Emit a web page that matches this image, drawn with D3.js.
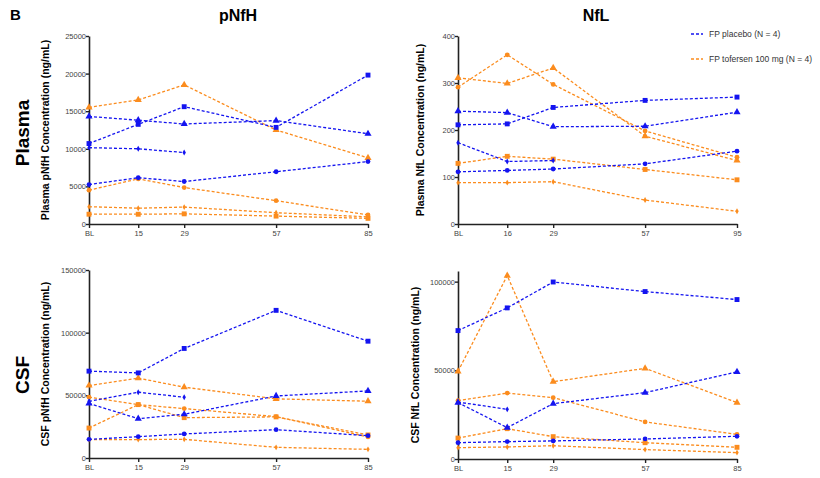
<!DOCTYPE html>
<html>
<head>
<meta charset="utf-8">
<script src="https://cdn.jsdelivr.net/npm/d3@7"></script>
<style>
  body { margin: 0; background: #fff; }
  text { font-family: Arial, "Liberation Sans", sans-serif; }
</style>
</head>
<body>
<div id="chart"></div>
<script>
// study days used for x position, and the labels printed under each panel
var days = [0, 15, 29, 57, 85];
var visitsPlasmaPnfh = ["BL", "15", "29", "57", "85"];
var visitsPlasmaNfl  = ["BL", "16", "29", "57", "95"];
var visitsCsfPnfh    = ["BL", "15", "29", "57", "85"];
var visitsCsfNfl     = ["BL", "15", "29", "57", "85"];

// one row per participant; null = no sample
var plasmaPnfhPlacebo = [
  [10700, 13250, 15600, 12850, 19800],
  [14300, 13800, 13300, 13750, 12000],
  [10150, 10000, 9500, null, null],
  [5250, 6150, 5650, 6950, 8300]
];
var plasmaPnfhTofersen = [
  [1300, 1300, 1350, 1050, 750],
  [15500, 16500, 18500, 12500, 8800],
  [4500, 6000, 4850, 3100, 1200],
  [2300, 2100, 2250, 1500, 950]
];

var plasmaNflPlacebo = [
  [211, 213, 248, 263, 270],
  [240, 237, 207, 208, 238],
  [173, 133, 135, null, null],
  [111, 114, 117, 128, 155]
];
var plasmaNflTofersen = [
  [129, 144, 138, 116, 94],
  [311, 299, 332, 187, 135],
  [291, 360, 297, 198, 142],
  [88, 88, 90, 51, 27]
];

var csfPnfhPlacebo = [
  [69300, 67900, 87400, 117800, 93200],
  [43500, 31400, 34900, 49500, 53500],
  [45200, 52500, 48500, null, null],
  [14900, 17000, 19200, 22600, 17800]
];
var csfPnfhTofersen = [
  [23900, 42600, 32200, 32800, 18400],
  [57800, 63700, 56500, 47200, 45300],
  [48500, 42600, 39400, 33000, 16800],
  [14700, 14700, 14900, 8500, 6900]
];

var csfNflPlacebo = [
  [72400, 85200, 99800, 94400, 89900],
  [31800, 17700, 31200, 37400, 49100],
  [32100, 28000, null, null, null],
  [9200, 9800, 10200, 11300, 12800]
];
var csfNflTofersen = [
  [11800, 17100, 12600, 9200, 6600],
  [49400, 103400, 43600, 51100, 31800],
  [32900, 37200, 34600, 20900, 13900],
  [6400, 6800, 7500, 5300, 3600]
];

var placeboColor = "#1414f0",
    tofersenColor = "#fb8c1e";

// marker per participant row
var placeboShapes  = [d3.symbolSquare, d3.symbolTriangle, d3.symbolDiamond, d3.symbolCircle];
var placeboSizes   = [24, 22, 10, 18];
var tofersenShapes = [d3.symbolSquare, d3.symbolTriangle, d3.symbolCircle, d3.symbolDiamond];
var tofersenSizes  = [24, 22, 18, 10];

var svg = d3.select("#chart").append("svg")
    .attr("width", 820)
    .attr("height", 478);

var plotW = 279, plotH = 188;

function panel(left, top, ymax, yticks, labels, placebo, tofersen, ytitle, titleX) {
  var g = svg.append("g")
      .attr("transform", "translate(" + left + "," + top + ")");

  var x = d3.scaleLinear().domain([0, 85]).range([0, plotW]);
  var y = d3.scaleLinear().domain([0, ymax]).range([plotH, 0]);

  var yAxis = g.append("g")
      .call(d3.axisLeft(y).tickValues(yticks).tickSize(3).tickSizeOuter(0).tickFormat(d3.format("d")));
  var xAxis = g.append("g")
      .attr("transform", "translate(0," + plotH + ")")
      .call(d3.axisBottom(x).tickValues(days).tickSize(4).tickSizeOuter(0)
        .tickFormat(function(d, i) { return labels[i]; }));

  [yAxis, xAxis].forEach(function(a) {
    a.select(".domain").attr("stroke", "#222").attr("stroke-width", 1.6);
    a.selectAll(".tick line").attr("stroke", "#222").attr("stroke-width", 1.4);
    a.selectAll("text").attr("fill", "#444").style("font-size", "7.5px")
      .style("font-family", "Arial, 'Liberation Sans', sans-serif");
  });
  yAxis.selectAll("text").attr("x", -3);
  xAxis.selectAll("text").attr("y", 7);

  var line = d3.line()
      .defined(function(d) { return d != null; })
      .x(function(d, i) { return x(days[i]); })
      .y(function(d) { return y(d); });

  function drawGroup(rows, color, shapes, sizes) {
    rows.forEach(function(row, k) {
      g.append("path")
          .datum(row)
          .attr("d", line)
          .attr("fill", "none")
          .attr("stroke", color)
          .attr("stroke-width", 1.3)
          .attr("stroke-dasharray", "3,2");

      var sym = d3.symbol().type(shapes[k]).size(sizes[k]);
      g.selectAll(null)
          .data(row.map(function(v, i) { return {v: v, i: i}; })
                  .filter(function(d) { return d.v != null; }))
        .enter().append("path")
          .attr("d", sym)
          .attr("fill", color)
          .attr("transform", function(d) {
            return "translate(" + x(days[d.i]) + "," + y(d.v) + ")";
          });
    });
  }

  drawGroup(tofersen, tofersenColor, tofersenShapes, tofersenSizes);
  drawGroup(placebo, placeboColor, placeboShapes, placeboSizes);

  svg.append("text")
      .attr("transform", "translate(" + titleX + "," + (top + plotH / 2) + ") rotate(-90)")
      .attr("text-anchor", "middle")
      .style("font-size", "10.5px")
      .style("font-weight", "bold")
      .text(ytitle);
}

panel(89, 36, 25000, [0, 5000, 10000, 15000, 20000, 25000], visitsPlasmaPnfh,
      plasmaPnfhPlacebo, plasmaPnfhTofersen, "Plasma pNfH Concentration (ng/mL)", 49);
panel(458, 36, 400, [0, 100, 200, 300, 400], visitsPlasmaNfl,
      plasmaNflPlacebo, plasmaNflTofersen, "Plasma NfL Concentration (ng/mL)", 424);
panel(89, 270, 150000, [0, 50000, 100000, 150000], visitsCsfPnfh,
      csfPnfhPlacebo, csfPnfhTofersen, "CSF pNfH Concentration (ng/mL)", 49);
panel(458, 271, 106000, [0, 50000, 100000], visitsCsfNfl,
      csfNflPlacebo, csfNflTofersen, "CSF NfL Concentration (ng/mL)", 419);

// headings
svg.append("text").attr("x", 10).attr("y", 20)
    .style("font-size", "15px").style("font-weight", "bold").text("B");
svg.append("text").attr("x", 238).attr("y", 21).attr("text-anchor", "middle")
    .style("font-size", "16px").style("font-weight", "bold").text("pNfH");
svg.append("text").attr("x", 596).attr("y", 21).attr("text-anchor", "middle")
    .style("font-size", "16px").style("font-weight", "bold").text("NfL");

[["Plasma", 133], ["CSF", 375]].forEach(function(r) {
  svg.append("text")
      .attr("transform", "translate(29," + r[1] + ") rotate(-90)")
      .attr("text-anchor", "middle")
      .style("font-size", "19px").style("font-weight", "bold")
      .text(r[0]);
});

// legend
var legend = [["FP placebo (N = 4)", placeboColor], ["FP tofersen 100 mg (N = 4)", tofersenColor]];
legend.forEach(function(l, i) {
  var ly = 34 + i * 25;
  svg.append("line")
      .attr("x1", 691).attr("x2", 703).attr("y1", ly).attr("y2", ly)
      .attr("stroke", l[1]).attr("stroke-width", 1.5).attr("stroke-dasharray", "3,2");
  svg.append("text").attr("x", 709).attr("y", ly + 3)
      .style("font-size", "8.5px").attr("fill", "#333").text(l[0]);
});
</script>
</body>
</html>
